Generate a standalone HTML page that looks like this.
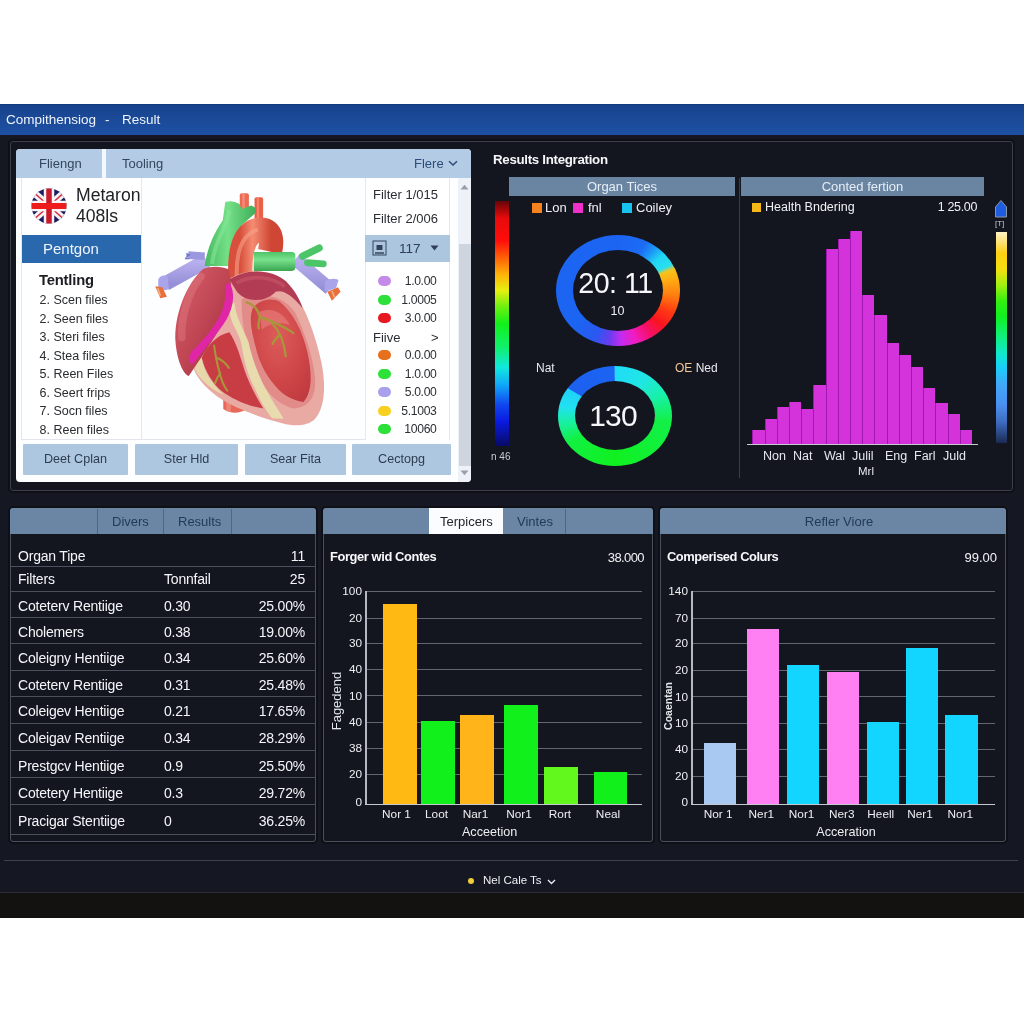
<!DOCTYPE html>
<html lang="en">
<head>
<meta charset="utf-8">
<title>Comprehensive Result</title>
<style>
*{box-sizing:border-box;margin:0;padding:0}
html,body{width:1024px;height:1024px;overflow:hidden;background:#fff}
body{position:relative;font-family:"Liberation Sans",sans-serif;color:#f2f4f8;font-size:13px}
.abs{position:absolute}
#titlebar{left:0;top:104px;width:1024px;height:31px;background:linear-gradient(180deg,#17428c 0%,#1b4a98 50%,#1e50a4 100%);border-top:1px solid #143a7c}
#titlebar span{position:absolute;top:7px;font-size:13.5px;color:#eef3fb;white-space:nowrap}
#main{left:0;top:135px;width:1024px;height:758px;background:#151722}
#strip{left:0;top:892px;width:1024px;height:26px;background:#131211;border-top:1px solid #2a2c33}
.panel{border:1px solid #3c3f4b;border-radius:3px;background:#14161f;box-shadow:0 0 0 2px #0f1016}
.t{position:absolute;white-space:nowrap;line-height:1}
.hdr{position:absolute;background:#6a85a2;color:#e6edf5;text-align:center;font-size:13px}
/* viewer */
#viewer{left:16px;top:149px;width:455px;height:333px;background:#fdfeff;border-radius:4px;overflow:hidden;color:#23262b}
#viewer .tabs{left:0;top:0;width:455px;height:29px;background:#b3cbe4}
#viewer .tabsep{left:86px;top:0;width:4px;height:29px;background:#f4f8fc}
.vbtn{position:absolute;top:295px;height:31px;background:#aec7e1;color:#2e3c4e;font-size:12.6px;text-align:center;line-height:31px;border-radius:1px}
.li{position:absolute;left:23.5px;font-size:12.5px;color:#2a2c30;white-space:nowrap;line-height:1}
.dot{position:absolute;left:362px;width:13px;height:10px;border-radius:5px}
.val{position:absolute;right:34.5px;font-size:12.2px;letter-spacing:-0.35px;color:#2c2f34;white-space:nowrap;line-height:1}
/* table */
.row{position:absolute;left:0;width:304px;border-bottom:1px solid #4a4f5c;font-size:14px;color:#f4f6fa}
.row span{position:absolute;white-space:nowrap;line-height:1}
.c1{left:8px}.c2{left:153px}.c3{right:9px}
.grid{position:absolute;height:1px;background:#62666f}
.yl{position:absolute;font-size:11.8px;color:#eceef2;text-align:right;width:30px;line-height:1}
.xl{position:absolute;font-size:11.8px;color:#eceef2;text-align:center;width:50px;line-height:1}
.bar{position:absolute}
</style>
</head>
<body>
<div id="titlebar" class="abs"><span style="left:6px">Compithensiog</span><span style="left:105px">-</span><span style="left:122px">Result</span></div>
<div id="main" class="abs"></div>
<div id="strip" class="abs"></div>

<!-- TOP OUTER PANEL -->
<div class="abs panel" id="toppanel" style="left:10px;top:141px;width:1003px;height:350px"></div>

<!-- VIEWER -->
<div class="abs" id="viewer">
  <div class="abs tabs"></div>
  <div class="abs tabsep"></div>
  <span class="t" style="left:23px;top:8px;font-size:13px;color:#34465c">Fliengn</span>
  <span class="t" style="left:106px;top:8px;font-size:13px;color:#34465c">Tooling</span>
  <span class="t" style="left:398px;top:8px;font-size:13px;color:#2c4d7a">Flere</span>
  <svg class="abs" style="left:432px;top:11px" width="10" height="7" viewBox="0 0 10 7"><path d="M1 1.2 L5 5 L9 1.2" fill="none" stroke="#2c4d7a" stroke-width="1.5"/></svg>

  <svg class="abs" style="left:124px;top:31px" width="230" height="260" viewBox="0 0 906 1024">
    <defs>
      <linearGradient id="gGreen" x1="0" y1="0" x2="1" y2="0"><stop offset="0" stop-color="#48b860"/><stop offset="0.45" stop-color="#74e088"/><stop offset="1" stop-color="#3fae58"/></linearGradient>
      <linearGradient id="gGreenH" x1="0" y1="0" x2="0" y2="1"><stop offset="0" stop-color="#4fc468"/><stop offset="0.4" stop-color="#78e28c"/><stop offset="1" stop-color="#3aa652"/></linearGradient>
      <linearGradient id="gAorta" x1="0" y1="0" x2="1" y2="0"><stop offset="0" stop-color="#d8503c"/><stop offset="0.4" stop-color="#f48c72"/><stop offset="1" stop-color="#cf4634"/></linearGradient>
      <linearGradient id="gLav" x1="0" y1="0" x2="0" y2="1"><stop offset="0" stop-color="#b8b0ee"/><stop offset="1" stop-color="#9690d8"/></linearGradient>
      <radialGradient id="gBody" cx="0.45" cy="0.35" r="0.75"><stop offset="0" stop-color="#dc5c5a"/><stop offset="0.6" stop-color="#cf4648"/><stop offset="1" stop-color="#c03a40"/></radialGradient>
      <linearGradient id="gAtr" x1="0" y1="0" x2="1" y2="1"><stop offset="0" stop-color="#d8606a"/><stop offset="0.5" stop-color="#c04654"/><stop offset="1" stop-color="#982c3c"/></linearGradient>
    </defs>
    <!-- lavender vessels -->
    <path d="M262 318 L100 408" stroke="url(#gLav)" stroke-width="58" fill="none"/>
    <path d="M255 300 L190 296" stroke="#9c98e0" stroke-width="30" fill="none"/>
    <path d="M182 286 l18 8 l-16 12 z M182 300 l-6 12 l20 0z" fill="#6f78c8"/>
    <path d="M72 392 q10 -22 36 -14 l6 50 q-24 14 -42 -4 z" fill="#aaa4ea"/>
    <path d="M60 418 l28 4 l18 38 l-26 6 z" fill="#e8703c"/><path d="M70 426 l10 30" stroke="#f8b088" stroke-width="6"/>
    <path d="M612 312 L748 428" stroke="url(#gLav)" stroke-width="52" fill="none"/>
    <path d="M728 398 q34 -16 54 -4 l-10 32 l-44 14 z" fill="#aaa4ea"/>
    <path d="M738 440 l42 -18 l10 18 l-34 36 z" fill="#e8703c"/><path d="M756 436 l10 26" stroke="#f8b088" stroke-width="6"/>
    <!-- green small branches -->
    <path d="M640 300 L706 268" stroke="#4cc468" stroke-width="28" stroke-linecap="round" fill="none"/>
    <path d="M660 326 L722 330" stroke="#4cc468" stroke-width="27" stroke-linecap="round" fill="none"/>
    <!-- aorta top branches -->
    <rect x="393" y="52" width="36" height="80" rx="8" fill="#ee6a52"/><rect x="403" y="52" width="10" height="80" fill="#f89a84" opacity=".7"/>
    <rect x="451" y="68" width="34" height="90" rx="8" fill="#ea6048"/><rect x="460" y="68" width="9" height="90" fill="#f6907a" opacity=".7"/>
    <!-- green SVC -->
    <path d="M336 87 Q363 77 392 94 L400 114 L438 100 Q464 109 453 132 L401 177 Q366 227 353 339 L255 339 Q267 243 326 158 Z" fill="url(#gGreen)"/>
    <path d="M352 120 C340 190 290 250 284 330" stroke="#86e89a" stroke-width="16" fill="none" opacity=".55"/>
    <!-- aorta arch -->
    <path d="M398 420 C388 310 398 196 478 196 C522 198 520 246 512 282" stroke="url(#gAorta)" stroke-width="96" fill="none"/>
    <path d="M382 400 C376 300 394 216 464 196" stroke="#f8a088" stroke-width="16" fill="none" opacity=".6"/>
    <!-- green pulmonary (horizontal) in front of descending aorta -->
    <path d="M448 284 H598 Q612 284 612 298 V344 Q612 358 598 358 H448 Z" fill="url(#gGreenH)"/>
    <!-- IVC stub -->
    <path d="M328 850 h92 v52 q-46 30 -92 0 z" fill="#e8685a"/>
    <path d="M340 850 h18 v62 h-18z" fill="#f49a88" opacity=".6"/>
    <!-- ventricle silhouette (pale band colour) -->
    <path d="M350 390 C420 345 520 350 575 400 C640 470 690 600 715 720 C735 820 725 900 690 940 C660 970 610 972 560 958 C470 935 380 900 326 867 C270 830 230 790 212 745 C230 660 300 560 350 390 Z" fill="#eaaaa4"/>
    <!-- mid pink -->
    <path d="M400 470 C470 440 560 450 610 520 C650 600 690 720 690 800 C690 870 650 900 600 900 C540 880 500 840 470 780 C430 700 400 600 400 470 Z" fill="#e28c8a"/>
    <!-- inner red patch -->
    <path d="M444 505 C470 470 520 462 552 480 C600 520 640 590 660 680 C680 770 676 840 644 874 C600 868 560 845 534 812 C496 770 470 720 456 660 C440 600 428 550 444 505 Z" fill="url(#gBody)"/>
    <path d="M470 520 C520 500 560 520 590 570 C560 560 510 560 480 590 Z" fill="#e67a78" opacity=".7"/>
    <!-- cream band -->
    <path d="M372 480 C376 540 410 590 428 640 C440 700 470 780 500 830 C520 870 545 905 566 940 L520 938 C490 900 470 860 452 820 C420 760 408 700 400 650 C392 600 350 560 352 500 Z" fill="#e8dcae"/>
    <!-- lower-left red region -->
    <path d="M243 700 C262 660 300 610 352 600 C380 640 396 700 412 750 C430 800 460 860 486 900 C420 890 360 860 320 830 C285 800 255 750 243 700 Z" fill="#c83c44"/>
    <path d="M215 742 C222 722 232 708 243 700 C250 750 280 800 330 845 C290 830 235 790 215 742 Z" fill="#e6d8aa"/>
    <!-- right atrium (viewer left) -->
    <path d="M250 350 C180 410 132 540 140 640 C146 710 170 765 192 772 C220 730 270 660 310 590 C350 520 372 450 350 352 C320 338 280 338 250 350 Z" fill="url(#gAtr)"/>
    <path d="M240 380 C190 440 160 540 165 620" stroke="#e07a80" stroke-width="30" fill="none" opacity=".45" stroke-linecap="round"/>
    <!-- auricle / dark top -->
    <path d="M352 392 C420 346 520 350 576 400 C610 436 630 470 640 505 C600 452 560 430 534 440 C520 455 500 468 470 472 C430 476 392 460 376 430 Z" fill="#b23c54"/><path d="M380 405 C440 372 520 380 570 420" stroke="#c8566a" stroke-width="14" fill="none" opacity=".6"/>
    <!-- magenta band -->
    <path d="M352 405 C376 440 370 500 340 550 C310 600 250 670 205 728 C186 710 190 690 215 665 C260 620 305 565 325 510 C338 470 340 440 338 412 Z" fill="#e026a6"/>
    <!-- vessels (olive) -->
    <path d="M420 482 q42 12 52 58 q62 18 132 62 M472 540 q-8 30 -4 44 M522 566 q42 42 52 128 M548 612 q-22 22 -26 34" stroke="#a6983a" stroke-width="9" fill="none" stroke-linecap="round"/>
    <path d="M292 652 q8 60 20 100 q10 48 32 78 M302 700 q30 12 48 40 M316 760 q-14 20 -20 40" stroke="#a6983a" stroke-width="8" fill="none" stroke-linecap="round"/>
  </svg>


  <!-- sidebar -->
  <div class="abs" style="left:5px;top:29px;width:121px;height:262px;border:1px solid #e4e8ee;border-top:none;background:#fff"></div>
  <svg class="abs" style="left:15px;top:39px" width="36" height="36" viewBox="0 0 36 36">
    <defs><clipPath id="fc"><circle cx="18" cy="18" r="17.5"/></clipPath></defs>
    <g clip-path="url(#fc)">
      <rect width="36" height="36" fill="#1c1c62"/>
      <path d="M0 2 L36 34 M36 2 L0 34" stroke="#f6f2f4" stroke-width="7"/>
      <path d="M0 2 L36 34 M36 2 L0 34" stroke="#d83040" stroke-width="1.6"/>
      <path d="M18 0 V36 M0 18 H36" stroke="#f8f4f6" stroke-width="10.5"/>
      <path d="M18 0 V36" stroke="#c81a2a" stroke-width="5.5"/>
      <path d="M0 18 H36" stroke="#ee1c1c" stroke-width="6"/>
    </g>
  </svg>
  <span class="t" style="left:60px;top:38px;font-size:17.6px;color:#202226">Metaron</span>
  <span class="t" style="left:60px;top:58.5px;font-size:17.6px;color:#202226">408ls</span>
  <div class="abs" style="left:6px;top:86px;width:119px;height:28px;background:#2a68ae"></div>
  <span class="t" style="left:27px;top:92px;font-size:15px;color:#f0f5fb">Pentgon</span>
  <span class="t" style="left:23px;top:124px;font-size:14.8px;color:#1c1e22;font-weight:bold;letter-spacing:-0.2px">Tentling</span>
  <span class="li" style="top:145px">2. Scen files</span>
  <span class="li" style="top:164px">2. Seen files</span>
  <span class="li" style="top:182px">3. Steri files</span>
  <span class="li" style="top:201px">4. Stea files</span>
  <span class="li" style="top:219px">5. Reen Files</span>
  <span class="li" style="top:238px">6. Seert frips</span>
  <span class="li" style="top:256px">7. Socn files</span>
  <span class="li" style="top:275px">8. Reen files</span>
  <div class="abs" style="left:5px;top:290px;width:428px;height:1px;background:#e2e6ec"></div>


  <!-- filter list -->
  <div class="abs" style="left:349px;top:29px;width:85px;height:262px;border-left:1px solid #e4e9f0;border-right:1px solid #e4e9f0;background:#fff"></div>
  <span class="t" style="left:357px;top:39px;font-size:13px;color:#2a2d33">Filter 1/015</span>
  <span class="t" style="left:357px;top:63px;font-size:13px;color:#2a2d33">Filter 2/006</span>
  <div class="abs" style="left:349px;top:86px;width:85px;height:27px;background:#adc6e0"></div>
  <svg class="abs" style="left:356px;top:91px" width="15" height="16" viewBox="0 0 15 16"><rect x="1" y="1" width="13" height="14" fill="none" stroke="#33445a" stroke-width="1"/><rect x="4.5" y="5" width="6" height="5" fill="#33445a"/><path d="M3 13 H12" stroke="#33445a" stroke-width="1.3"/></svg>
  <span class="t" style="left:383px;top:93px;font-size:13.6px;color:#2f4056">117</span>
  <svg class="abs" style="left:414px;top:96px" width="9" height="6" viewBox="0 0 9 6"><path d="M0.5 0.5 H8.5 L4.5 5.5 Z" fill="#2f4056"/></svg>
  <div class="dot" style="top:127px;background:#c58ae8"></div><span class="val" style="top:126px">1.0.00</span>
  <div class="dot" style="top:146px;background:#2ee03a"></div><span class="val" style="top:145px">1.0005</span>
  <div class="dot" style="top:164px;background:#e81820"></div><span class="val" style="top:163px">3.0.00</span>
  <span class="t" style="left:357px;top:182px;font-size:13px;color:#2a2d33">Fiive</span><span class="t" style="left:415px;top:182px;font-size:13px;color:#2a2d33">&gt;</span>
  <div class="dot" style="top:201px;background:#e8701c"></div><span class="val" style="top:200px">0.0.00</span>
  <div class="dot" style="top:220px;background:#2ee03a"></div><span class="val" style="top:219px">1.0.00</span>
  <div class="dot" style="top:238px;background:#a8a0ec"></div><span class="val" style="top:237px">5.0.00</span>
  <div class="dot" style="top:257px;background:#f8d020"></div><span class="val" style="top:256px">5.1003</span>
  <div class="dot" style="top:275px;background:#2ee03a"></div><span class="val" style="top:274px">10060</span>
  <!-- scrollbar -->
  <div class="abs" style="left:442px;top:29px;width:13px;height:304px;background:#eef2f8"></div>
  <div class="abs" style="left:443px;top:95px;width:12px;height:222px;background:#cfd5df"></div>
  <svg class="abs" style="left:444px;top:35px" width="9" height="6" viewBox="0 0 9 6"><path d="M0.5 5.5 L4.5 0.8 L8.5 5.5 Z" fill="#9aa0a8"/></svg>
  <svg class="abs" style="left:444px;top:321px" width="9" height="6" viewBox="0 0 9 6"><path d="M0.5 0.5 L4.5 5.2 L8.5 0.5 Z" fill="#9aa0a8"/></svg>

  <div class="vbtn" style="left:7px;width:105px">Deet Cplan</div>
  <div class="vbtn" style="left:119px;width:103px">Ster Hld</div>
  <div class="vbtn" style="left:229px;width:101px">Sear Fita</div>
  <div class="vbtn" style="left:336px;width:99px">Cectopg</div>
</div>


<!-- RESULTS -->
<span class="t" style="left:493px;top:153px;font-size:13.3px;font-weight:bold;color:#f4f6fa;letter-spacing:-0.3px">Results Integration</span>
<div class="hdr" style="left:509px;top:177px;width:226px;height:19px;line-height:19px">Organ Tices</div>
<div class="abs" style="left:495px;top:201px;width:14px;height:245px;background:linear-gradient(180deg,#640608 0%,#e80a0c 7%,#ff0c0a 16%,#ff6a08 24%,#ffb208 30%,#e6f010 36.5%,#70f010 43%,#12f01a 50%,#10f070 60%,#10e8de 68%,#10a8f8 75%,#1048f0 83%,#0a1ae0 90%,#080a64 100%)"></div>
<div class="abs" style="left:532px;top:203px;width:10px;height:10px;background:#f5821e"></div><span class="t" style="left:545px;top:201px;font-size:13px;color:#eef0f4">Lon</span>
<div class="abs" style="left:573px;top:203px;width:10px;height:10px;background:#ee30c8"></div><span class="t" style="left:588px;top:201px;font-size:13px;color:#eef0f4">fnl</span>
<div class="abs" style="left:622px;top:203px;width:10px;height:10px;background:#18c4ee"></div><span class="t" style="left:636px;top:201px;font-size:13px;color:#eef0f4">Coiley</span>
<!-- ring 1 -->
<div class="abs" style="left:556px;top:234.5px;width:124px;height:111px;border-radius:50%;background:conic-gradient(from 0deg,#1c64f2 0deg,#1c6cf4 30deg,#1c9cf6 42deg,#22d4f4 52deg,#28e0f0 64deg,#f6c41c 69deg,#ffa812 80deg,#ff7a10 96deg,#ff3a12 112deg,#fa1420 128deg,#f4106c 144deg,#f01cc0 160deg,#c42cf0 176deg,#6a3cf0 190deg,#2a58f0 206deg,#1c64f2 230deg,#1c64f2 360deg)"></div>
<div class="abs" style="left:573px;top:249.5px;width:90px;height:81px;border-radius:50%;background:#14161f"></div>
<span class="t" style="left:555.5px;top:268.5px;width:120px;text-align:center;font-size:28.6px;color:#f6f7fa;letter-spacing:-0.5px">20: 11</span>
<span class="t" style="left:557.5px;top:305px;width:120px;text-align:center;font-size:12.5px;color:#eceef2">10</span>
<span class="t" style="left:536px;top:362px;font-size:12px;color:#e8eaef">Nat</span>
<span class="t" style="left:675px;top:362px;font-size:12px;color:#e8eaef"><span style="color:#f2c89a">OE</span> Ned</span>
<!-- ring 2 -->
<div class="abs" style="left:558px;top:366px;width:114px;height:100px;border-radius:50%;background:conic-gradient(from 0deg,#20dcf8 0deg,#20e6e4 38deg,#18f0a8 66deg,#12f048 96deg,#10f020 180deg,#12f040 240deg,#18f0a0 262deg,#20e2f0 280deg,#20d2f8 300deg,#1c60f0 301deg,#1c64f2 359deg,#20dcf8 360deg)"></div>
<div class="abs" style="left:575px;top:381px;width:80px;height:69px;border-radius:50%;background:#14161f"></div>
<span class="t" style="left:553px;top:401px;width:120px;text-align:center;font-size:30px;color:#f6f7fa;letter-spacing:-0.8px">130</span>
<span class="t" style="left:491px;top:452px;font-size:10px;color:#c8ccd4">n 46</span>
<div class="abs" style="left:739px;top:178px;width:1px;height:300px;background:#3a3e4a"></div>


<!-- HISTOGRAM -->
<div class="hdr" style="left:741px;top:177px;width:243px;height:19px;line-height:19px">Conted fertion</div>
<div class="abs" style="left:752px;top:203px;width:9px;height:9px;background:#f6b818"></div>
<span class="t" style="left:765px;top:201px;font-size:12.5px;color:#eef0f4">Health Bndering</span>
<span class="t" style="right:47px;top:201px;font-size:12.5px;letter-spacing:-0.35px;color:#eef0f4">1 25.00</span>
<div class="bar" style="left:752.4px;top:430.0px;width:12.2px;height:14.0px;background:#d433dc;border-left:1px solid #a018b0"></div>
<div class="bar" style="left:764.6px;top:419.0px;width:12.2px;height:25.0px;background:#d433dc;border-left:1px solid #a018b0"></div>
<div class="bar" style="left:776.8px;top:406.7px;width:12.2px;height:37.3px;background:#d433dc;border-left:1px solid #a018b0"></div>
<div class="bar" style="left:789.0px;top:402.4px;width:12.2px;height:41.6px;background:#d433dc;border-left:1px solid #a018b0"></div>
<div class="bar" style="left:801.2px;top:409.0px;width:12.2px;height:35.0px;background:#d433dc;border-left:1px solid #a018b0"></div>
<div class="bar" style="left:813.4px;top:385.0px;width:12.2px;height:59.0px;background:#d433dc;border-left:1px solid #a018b0"></div>
<div class="bar" style="left:825.6px;top:248.5px;width:12.2px;height:195.5px;background:#d433dc;border-left:1px solid #a018b0"></div>
<div class="bar" style="left:837.8px;top:239.3px;width:12.2px;height:204.7px;background:#d433dc;border-left:1px solid #a018b0"></div>
<div class="bar" style="left:850.0px;top:230.7px;width:12.2px;height:213.3px;background:#d433dc;border-left:1px solid #a018b0"></div>
<div class="bar" style="left:862.2px;top:295.0px;width:12.2px;height:149.0px;background:#d433dc;border-left:1px solid #a018b0"></div>
<div class="bar" style="left:874.4px;top:314.6px;width:12.2px;height:129.4px;background:#d433dc;border-left:1px solid #a018b0"></div>
<div class="bar" style="left:886.6px;top:343.0px;width:12.2px;height:101.0px;background:#d433dc;border-left:1px solid #a018b0"></div>
<div class="bar" style="left:898.8px;top:354.5px;width:12.2px;height:89.5px;background:#d433dc;border-left:1px solid #a018b0"></div>
<div class="bar" style="left:911.0px;top:367.4px;width:12.2px;height:76.6px;background:#d433dc;border-left:1px solid #a018b0"></div>
<div class="bar" style="left:923.2px;top:387.5px;width:12.2px;height:56.5px;background:#d433dc;border-left:1px solid #a018b0"></div>
<div class="bar" style="left:935.4px;top:403.3px;width:12.2px;height:40.7px;background:#d433dc;border-left:1px solid #a018b0"></div>
<div class="bar" style="left:947.6px;top:414.2px;width:12.2px;height:29.8px;background:#d433dc;border-left:1px solid #a018b0"></div>
<div class="bar" style="left:959.8px;top:430.0px;width:12.2px;height:14.0px;background:#d433dc;border-left:1px solid #a018b0"></div>

<div class="abs" style="left:747px;top:444px;width:231px;height:1px;background:#c8c8d0"></div>
<span class="t" style="left:763px;top:450px;font-size:12.5px;color:#e6e8ee">Non</span>
<span class="t" style="left:793px;top:450px;font-size:12.5px;color:#e6e8ee">Nat</span>
<span class="t" style="left:824px;top:450px;font-size:12.5px;color:#e6e8ee">Wal</span>
<span class="t" style="left:852px;top:450px;font-size:12.5px;color:#e6e8ee">Julil</span>
<span class="t" style="left:885px;top:450px;font-size:12.5px;color:#e6e8ee">Eng</span>
<span class="t" style="left:914px;top:450px;font-size:12.5px;color:#e6e8ee">Farl</span>
<span class="t" style="left:943px;top:450px;font-size:12.5px;color:#e6e8ee">Juld</span>
<span class="t" style="left:858px;top:466px;font-size:11.5px;color:#e6e8ee">Mrl</span>
<!-- right scale -->
<svg class="abs" style="left:994px;top:199px" width="14" height="19" viewBox="0 0 14 19"><path d="M1.5 8 L7 1.5 L12.5 8 V18 H1.5 Z" fill="#1e5ce0" stroke="#8a94a8" stroke-width="1"/></svg>
<span class="t" style="left:995px;top:220px;font-size:8px;color:#c8ccd4">[T]</span>
<div class="abs" style="left:996px;top:232px;width:11px;height:211px;background:linear-gradient(180deg,#fff2c4 0%,#ffe272 5%,#ffd014 10%,#f2e010 18%,#a2f010 25%,#32f010 33%,#10f020 40%,#10f080 50%,#10e8d0 58%,#18d0f8 64%,#40a8f8 72%,#4a90f0 82%,#3e6cc0 90%,#1a2a52 100%)"></div>


<!-- TABLE -->
<div class="abs panel" style="left:10px;top:508px;width:306px;height:334px;border-color:#4a4f5c"></div>
<div class="abs" style="left:10px;top:508px;width:306px;height:26px;background:#6a86a4;border-radius:3px 3px 0 0"></div>
<div class="abs" style="left:97px;top:509px;width:1px;height:25px;background:#4f6782"></div>
<div class="abs" style="left:163px;top:509px;width:1px;height:25px;background:#4f6782"></div>
<div class="abs" style="left:231px;top:509px;width:1px;height:25px;background:#4f6782"></div>
<span class="t" style="left:112px;top:515px;font-size:13px;color:#233a56">Divers</span>
<span class="t" style="left:178px;top:515px;font-size:13px;color:#233a56">Results</span>
<span class="t" style="left:18px;top:549.2px;font-size:14px;letter-spacing:-0.2px;color:#f4f6fa">Organ Tipe</span><span class="t" style="right:719px;top:549.2px;font-size:14px;letter-spacing:-0.2px;color:#f4f6fa">11</span><div class="abs" style="left:11px;top:566.1px;width:304px;height:1px;background:#4c515e"></div>
<span class="t" style="left:18px;top:572.0px;font-size:14px;letter-spacing:-0.2px;color:#f4f6fa">Filters</span><span class="t" style="left:164px;top:572.0px;font-size:14px;letter-spacing:-0.2px;color:#f4f6fa">Tonnfail</span><span class="t" style="right:719px;top:572.0px;font-size:14px;letter-spacing:-0.2px;color:#f4f6fa">25</span><div class="abs" style="left:11px;top:591.4px;width:304px;height:1px;background:#4c515e"></div>
<span class="t" style="left:18px;top:598.8px;font-size:14px;letter-spacing:-0.2px;color:#f4f6fa">Coteterv Rentiige</span><span class="t" style="left:164px;top:598.8px;font-size:14px;letter-spacing:-0.2px;color:#f4f6fa">0.30</span><span class="t" style="right:719px;top:598.8px;font-size:14px;letter-spacing:-0.2px;color:#f4f6fa">25.00%</span><div class="abs" style="left:11px;top:616.5px;width:304px;height:1px;background:#4c515e"></div>
<span class="t" style="left:18px;top:624.8px;font-size:14px;letter-spacing:-0.2px;color:#f4f6fa">Cholemers</span><span class="t" style="left:164px;top:624.8px;font-size:14px;letter-spacing:-0.2px;color:#f4f6fa">0.38</span><span class="t" style="right:719px;top:624.8px;font-size:14px;letter-spacing:-0.2px;color:#f4f6fa">19.00%</span><div class="abs" style="left:11px;top:643.0px;width:304px;height:1px;background:#4c515e"></div>
<span class="t" style="left:18px;top:650.8px;font-size:14px;letter-spacing:-0.2px;color:#f4f6fa">Coleigny Hentiige</span><span class="t" style="left:164px;top:650.8px;font-size:14px;letter-spacing:-0.2px;color:#f4f6fa">0.34</span><span class="t" style="right:719px;top:650.8px;font-size:14px;letter-spacing:-0.2px;color:#f4f6fa">25.60%</span><div class="abs" style="left:11px;top:669.5px;width:304px;height:1px;background:#4c515e"></div>
<span class="t" style="left:18px;top:677.5px;font-size:14px;letter-spacing:-0.2px;color:#f4f6fa">Coteterv Rentiige</span><span class="t" style="left:164px;top:677.5px;font-size:14px;letter-spacing:-0.2px;color:#f4f6fa">0.31</span><span class="t" style="right:719px;top:677.5px;font-size:14px;letter-spacing:-0.2px;color:#f4f6fa">25.48%</span><div class="abs" style="left:11px;top:696.1px;width:304px;height:1px;background:#4c515e"></div>
<span class="t" style="left:18px;top:703.8px;font-size:14px;letter-spacing:-0.2px;color:#f4f6fa">Coleigev Hentiige</span><span class="t" style="left:164px;top:703.8px;font-size:14px;letter-spacing:-0.2px;color:#f4f6fa">0.21</span><span class="t" style="right:719px;top:703.8px;font-size:14px;letter-spacing:-0.2px;color:#f4f6fa">17.65%</span><div class="abs" style="left:11px;top:722.5px;width:304px;height:1px;background:#4c515e"></div>
<span class="t" style="left:18px;top:730.8px;font-size:14px;letter-spacing:-0.2px;color:#f4f6fa">Coleigav Rentiige</span><span class="t" style="left:164px;top:730.8px;font-size:14px;letter-spacing:-0.2px;color:#f4f6fa">0.34</span><span class="t" style="right:719px;top:730.8px;font-size:14px;letter-spacing:-0.2px;color:#f4f6fa">28.29%</span><div class="abs" style="left:11px;top:749.5px;width:304px;height:1px;background:#4c515e"></div>
<span class="t" style="left:18px;top:758.8px;font-size:14px;letter-spacing:-0.2px;color:#f4f6fa">Prestgcv Hentiige</span><span class="t" style="left:164px;top:758.8px;font-size:14px;letter-spacing:-0.2px;color:#f4f6fa">0.9</span><span class="t" style="right:719px;top:758.8px;font-size:14px;letter-spacing:-0.2px;color:#f4f6fa">25.50%</span><div class="abs" style="left:11px;top:776.5px;width:304px;height:1px;background:#4c515e"></div>
<span class="t" style="left:18px;top:785.8px;font-size:14px;letter-spacing:-0.2px;color:#f4f6fa">Cotetery Hentiige</span><span class="t" style="left:164px;top:785.8px;font-size:14px;letter-spacing:-0.2px;color:#f4f6fa">0.3</span><span class="t" style="right:719px;top:785.8px;font-size:14px;letter-spacing:-0.2px;color:#f4f6fa">29.72%</span><div class="abs" style="left:11px;top:803.8px;width:304px;height:1px;background:#4c515e"></div>
<span class="t" style="left:18px;top:813.8px;font-size:14px;letter-spacing:-0.2px;color:#f4f6fa">Pracigar Stentiige</span><span class="t" style="left:164px;top:813.8px;font-size:14px;letter-spacing:-0.2px;color:#f4f6fa">0</span><span class="t" style="right:719px;top:813.8px;font-size:14px;letter-spacing:-0.2px;color:#f4f6fa">36.25%</span><div class="abs" style="left:11px;top:833.5px;width:304px;height:1px;background:#4c515e"></div>

<!-- CHART1 -->
<div class="abs panel" style="left:323px;top:508px;width:330px;height:334px;border-color:#4a4f5c"></div>
<div class="abs" style="left:323px;top:508px;width:330px;height:26px;background:#6a86a4;border-radius:3px 3px 0 0"></div>
<div class="abs" style="left:429px;top:508px;width:74px;height:26px;background:#fbfcfe"></div>
<div class="abs" style="left:565px;top:509px;width:1px;height:25px;background:#4f6782"></div>
<span class="t" style="left:440px;top:515px;font-size:13px;color:#22262c">Terpicers</span>
<span class="t" style="left:517px;top:515px;font-size:13px;color:#233a56">Vintes</span>
<span class="t" style="left:330px;top:550.5px;font-size:12.9px;font-weight:bold;color:#f6f8fb;letter-spacing:-0.4px">Forger wid Contes</span><span class="t" style="right:380px;top:550.5px;font-size:13px;letter-spacing:-0.6px;color:#f0f2f6">38.000</span>
<div class="grid" style="left:366.1px;top:591.0px;width:275.7px"></div><span class="yl" style="left:332.0px;top:586.3px">100</span>
<div class="grid" style="left:366.1px;top:617.5px;width:275.7px"></div><span class="yl" style="left:332.0px;top:612.8px">20</span>
<div class="grid" style="left:366.1px;top:642.8px;width:275.7px"></div><span class="yl" style="left:332.0px;top:638.1px">30</span>
<div class="grid" style="left:366.1px;top:669.1px;width:275.7px"></div><span class="yl" style="left:332.0px;top:664.4px">40</span>
<div class="grid" style="left:366.1px;top:695.4px;width:275.7px"></div><span class="yl" style="left:332.0px;top:690.7px">10</span>
<div class="grid" style="left:366.1px;top:721.5px;width:275.7px"></div><span class="yl" style="left:332.0px;top:716.8px">40</span>
<div class="grid" style="left:366.1px;top:747.6px;width:275.7px"></div><span class="yl" style="left:332.0px;top:742.9px">38</span>
<div class="grid" style="left:366.1px;top:773.9px;width:275.7px"></div><span class="yl" style="left:332.0px;top:769.2px">20</span>
<span class="yl" style="left:332.0px;top:797.2px">0</span>
<div class="abs" style="left:365.4px;top:590.5px;width:1.5px;height:214.4px;background:#b4b8c2"></div><div class="abs" style="left:365.4px;top:803.6px;width:276.4px;height:1.6px;background:#c4c8d0"></div>
<div class="bar" style="left:383.3px;top:604.3px;width:33.9px;height:199.5px;background:#ffb912"></div><div class="bar" style="left:421.3px;top:721.3px;width:33.3px;height:82.5px;background:#12f01c"></div><div class="bar" style="left:460.0px;top:714.8px;width:34.3px;height:89.0px;background:#ffb51a"></div><div class="bar" style="left:504.0px;top:705.0px;width:33.7px;height:98.8px;background:#12f01c"></div><div class="bar" style="left:544.2px;top:766.5px;width:34.0px;height:37.3px;background:#62f81e"></div><div class="bar" style="left:593.7px;top:772.0px;width:33.3px;height:31.8px;background:#12f01c"></div>
<span class="xl" style="left:371.5px;top:809.2px">Nor 1</span><span class="xl" style="left:411.5px;top:809.2px">Loot</span><span class="xl" style="left:450.5px;top:809.2px">Nar1</span><span class="xl" style="left:494.0px;top:809.2px">Nor1</span><span class="xl" style="left:535.0px;top:809.2px">Rort</span><span class="xl" style="left:583.0px;top:809.2px">Neal</span>
<span class="xl" style="left:439.6px;top:825.5px;width:100px;font-size:12.6px">Acceetion</span><span class="t" style="left:336.0px;top:701.0px;font-size:13px;color:#e4e6ec;transform:translate(-50%,-50%) rotate(-90deg)">Fagedend</span>
<!-- CHART2 -->
<div class="abs panel" style="left:660px;top:508px;width:346px;height:334px;border-color:#4a4f5c"></div>
<div class="abs" style="left:660px;top:508px;width:346px;height:26px;background:#6a86a4;border-radius:3px 3px 0 0"></div>
<span class="t" style="left:666px;width:346px;text-align:center;top:515px;font-size:13px;color:#233a56">Refler Viore</span>
<span class="t" style="left:667px;top:550.5px;font-size:12.9px;font-weight:bold;color:#f6f8fb;letter-spacing:-0.45px">Comperised Colurs</span><span class="t" style="right:27px;top:550.5px;font-size:13px;letter-spacing:0px;color:#f0f2f6">99.00</span>
<div class="grid" style="left:691.7px;top:591.0px;width:303.3px"></div><span class="yl" style="left:658.0px;top:586.3px">140</span>
<div class="grid" style="left:691.7px;top:617.8px;width:303.3px"></div><span class="yl" style="left:658.0px;top:613.1px">70</span>
<div class="grid" style="left:691.7px;top:642.8px;width:303.3px"></div><span class="yl" style="left:658.0px;top:638.1px">20</span>
<div class="grid" style="left:691.7px;top:669.8px;width:303.3px"></div><span class="yl" style="left:658.0px;top:665.1px">20</span>
<div class="grid" style="left:691.7px;top:696.4px;width:303.3px"></div><span class="yl" style="left:658.0px;top:691.7px">10</span>
<div class="grid" style="left:691.7px;top:722.8px;width:303.3px"></div><span class="yl" style="left:658.0px;top:718.1px">10</span>
<div class="grid" style="left:691.7px;top:748.9px;width:303.3px"></div><span class="yl" style="left:658.0px;top:744.2px">40</span>
<div class="grid" style="left:691.7px;top:775.6px;width:303.3px"></div><span class="yl" style="left:658.0px;top:770.9px">20</span>
<span class="yl" style="left:658.0px;top:797.2px">0</span>
<div class="abs" style="left:691.0px;top:590.5px;width:1.5px;height:214.4px;background:#b4b8c2"></div><div class="abs" style="left:691.0px;top:803.6px;width:304.0px;height:1.6px;background:#c4c8d0"></div>
<div class="bar" style="left:703.9px;top:742.5px;width:32.3px;height:61.3px;background:#a9c9f2"></div><div class="bar" style="left:746.9px;top:628.8px;width:32.1px;height:175.0px;background:#ff80f2"></div><div class="bar" style="left:787.0px;top:664.6px;width:31.7px;height:139.2px;background:#12d6ff"></div><div class="bar" style="left:827.0px;top:671.5px;width:32.3px;height:132.3px;background:#ff80f2"></div><div class="bar" style="left:866.6px;top:722.0px;width:32.4px;height:81.8px;background:#12d6ff"></div><div class="bar" style="left:905.7px;top:647.8px;width:32.1px;height:156.0px;background:#12d6ff"></div><div class="bar" style="left:945.0px;top:714.6px;width:32.6px;height:89.2px;background:#12d6ff"></div>
<span class="xl" style="left:693.2px;top:809.0px">Nor 1</span><span class="xl" style="left:736.4px;top:809.0px">Ner1</span><span class="xl" style="left:776.6px;top:809.0px">Nor1</span><span class="xl" style="left:816.7px;top:809.0px">Ner3</span><span class="xl" style="left:855.8px;top:809.0px">Heell</span><span class="xl" style="left:895.0px;top:809.0px">Ner1</span><span class="xl" style="left:935.4px;top:809.0px">Nor1</span>
<span class="xl" style="left:796.0px;top:825.5px;width:100px;font-size:12.6px">Acceration</span><span class="t" style="left:668.0px;top:706.0px;font-size:10.5px;font-weight:bold;color:#e4e6ec;transform:translate(-50%,-50%) rotate(-90deg)">Coaentan</span>

<!-- FOOTER -->
<div class="abs" style="left:4px;top:859.5px;width:1014px;height:1px;background:#3e424e"></div>
<div class="abs" style="left:468px;top:878px;width:6px;height:6px;border-radius:50%;background:#f2cf3a"></div>
<span class="t" style="left:483px;top:875px;font-size:11.5px;color:#eef0f4">Nel Cale Ts</span>
<svg class="abs" style="left:547px;top:879px" width="9" height="6" viewBox="0 0 9 6"><path d="M1 1 L4.5 4.5 L8 1" fill="none" stroke="#e8eaf0" stroke-width="1.4"/></svg>

</body>
</html>
